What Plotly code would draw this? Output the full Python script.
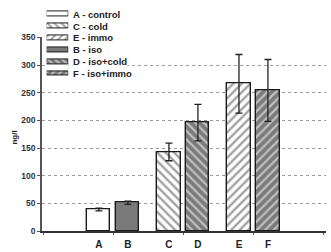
import plotly.graph_objects as go

# ---- data ----
labels = ["A", "B", "C", "D", "E", "F"]
names = ["A - control", "B - iso", "C - cold", "D - iso+cold", "E - immo", "F - iso+immo"]
values = [39, 51, 143, 196, 266, 254]
errors = [2.5, 3, 16, 33, 53, 56]
groups = [1, 1, 2, 2, 3, 3]          # pairs: control, cold, immo
fills = ["white", "#7a7a7a", "white", "#7a7a7a", "white", "#7a7a7a"]
patterns = ["", "", "\\", "\\", "/", "/"]
legend_order = ["A", "C", "E", "B", "D", "F"]
y_ticks = [0, 50, 100, 150, 200, 250, 300, 350]

# ---- layout params ----
FONT = "Liberation Sans, Arial, sans-serif"
slot = 0.414
bar_w = 0.33
xpos = [g + (slot / 2 if i % 2 else -slot / 2) for i, g in enumerate(groups)]

fig = go.Figure()

fig.add_trace(go.Bar(
    x=xpos, y=values, width=bar_w,
    marker=dict(color=fills,
                line=dict(color="#1a1a1a", width=1.4),
                pattern=dict(shape=patterns, fgcolor="#111111", size=6, solidity=0.4)),
    error_y=dict(type="data", array=errors, visible=True, color="#222222",
                 thickness=1.3, width=3.5),
    showlegend=False, hoverinfo="skip",
))

# legend swatches drawn as a small horizontal bar chart
idx = [labels.index(l) for l in legend_order]
fig.add_trace(go.Bar(
    orientation="h", x=[1] * len(idx), y=list(range(len(idx))), base=0, width=0.42,
    marker=dict(color=[fills[i] for i in idx],
                line=dict(color="#1a1a1a", width=1),
                pattern=dict(shape=[patterns[i] for i in idx], fgcolor="#111111",
                             size=5, solidity=0.4)),
    xaxis="x2", yaxis="y2", showlegend=False, hoverinfo="skip",
))

annotations = []
for row, i in enumerate(idx):
    annotations.append(dict(
        x=1, y=row, xref="x2", yref="y2", text=names[i], showarrow=False,
        xanchor="left", yanchor="middle", xshift=4, bgcolor="white", borderpad=0,
        font=dict(family=FONT, size=9.5, color="#222222", weight="bold"),
    ))
annotations.append(dict(
    x=-0.123, y=0.415, xref="paper", yref="paper", text="ng/l", textangle=-90,
    showarrow=False, font=dict(family=FONT, size=8, color="#222222", weight="bold"),
))

fig.update_layout(
    width=331, height=252,
    margin=dict(l=42, r=5, t=2, b=14),
    paper_bgcolor="white", plot_bgcolor="white",
    bargap=0, annotations=annotations,
    xaxis=dict(
        range=[-0.02, 4.036], showline=True, linecolor="#333333", linewidth=1.5,
        tickvals=xpos, ticktext=labels, ticks="outside", ticklen=3, tickcolor="rgba(0,0,0,0)",
        showgrid=False, zeroline=False,
        tickfont=dict(family=FONT, size=10, color="#222222", weight="bold"),
        minor=dict(dtick=1, tick0=0, ticks="outside", ticklen=2, tickcolor="#555555"),
        fixedrange=True,
    ),
    yaxis=dict(
        domain=[0, 204 / 236], range=[0, 350.01], tickvals=y_ticks,
        showline=True, linecolor="#555555", linewidth=1.5,
        ticks="outside", ticklen=3, tickcolor="#555555",
        showgrid=True, gridcolor="#9a9a9a", griddash="dot", gridwidth=1,
        zeroline=False,
        tickfont=dict(family=FONT, size=8.5, color="#333333", weight="bold"),
    ),
    xaxis2=dict(domain=[0.0165, 0.0926], range=[0, 1], visible=False, anchor="y2"),
    yaxis2=dict(domain=[0.677, 0.9936], range=[5.5, -0.5], visible=False, anchor="x2"),
)

fig.write_html("out.html")
